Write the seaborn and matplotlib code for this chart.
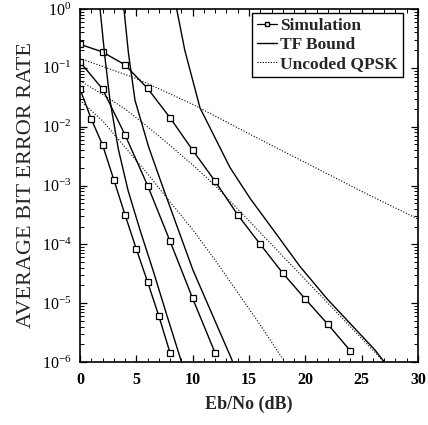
import numpy as np
import pandas as pd
import matplotlib
matplotlib.use("Agg")
import matplotlib.pyplot as plt
import seaborn as sns
from matplotlib.ticker import MultipleLocator, LogLocator, NullFormatter
from matplotlib.lines import Line2D

# ---- data (log10 of BER) ----
sim_a_x = [0, 1, 2, 3, 4, 5, 6, 7, 8]
sim_a_log = [-1.36, -1.87, -2.31, -2.90, -3.50, -4.08, -4.64, -5.22, -5.85]
sim_b_x = [0, 2, 4, 6, 8, 10, 12]
sim_b_log = [-0.90, -1.36, -2.14, -3.00, -3.95, -4.92, -5.85]
sim_c_x = [0, 2, 4, 6, 8, 10, 12, 14, 16, 18, 20, 22, 24]
sim_c_log = [-0.60, -0.73, -0.95, -1.35, -1.85, -2.40, -2.93, -3.50, -4.00, -4.49, -4.93, -5.36, -5.81]

tf1_x = [1.75, 1.78, 2.2, 2.66, 3.4, 4.26, 5.3, 6.48, 7.7, 8.96, 9.05]
tf1_log = [0.1, 0.0, -0.8, -1.55, -2.38, -3.08, -3.74, -4.44, -5.2, -5.97, -6.05]
tf2_x = [3.88, 3.9, 4.3, 4.88, 6.1, 7.45, 10.03, 13.5, 13.56]
tf2_log = [0.1, 0.0, -0.75, -1.55, -2.35, -3.08, -4.44, -5.97, -6.05]
tf3_x = [8.55, 8.58, 9.3, 10.65, 13.3, 15.1, 17.1, 19.5, 21.9, 24.0, 26.2, 27.0]
tf3_log = [0.1, 0.0, -0.7, -1.68, -2.69, -3.22, -3.74, -4.37, -4.92, -5.35, -5.8, -6.0]

qpsk1_x = [0, 5, 10, 15, 20, 25, 30]
qpsk1_log = [-0.84, -1.18, -1.62, -2.12, -2.61, -3.10, -3.57]
qpsk2_x = [0, 2, 4, 6, 8, 10, 12, 14, 16, 18, 20, 22, 24, 26, 27]
qpsk2_log = [-1.22, -1.45, -1.70, -2.00, -2.32, -2.65, -3.00, -3.40, -3.80, -4.20, -4.60, -5.00, -5.40, -5.80, -6.00]
qpsk3_x = [0, 2, 4, 6, 8, 10, 12, 14, 16, 18]
qpsk3_log = [-1.55, -1.90, -2.35, -2.80, -3.28, -3.75, -4.27, -4.82, -5.37, -5.95]

x_ticks = [0, 5, 10, 15, 20, 25, 30]
legend_labels = ["Simulation", "TF Bound", "Uncoded QPSK"]
x_label = "Eb/No (dB)"
y_label = "AVERAGE BIT ERROR RATE"

sns.set_style("ticks")
plt.rcParams["font.family"] = ["Liberation Serif", "DejaVu Serif"]
plt.rcParams["mathtext.fontset"] = "custom"
plt.rcParams["mathtext.rm"] = "Liberation Serif"
plt.rcParams["mathtext.it"] = "Liberation Serif:italic"
plt.rcParams["mathtext.bf"] = "Liberation Serif:bold"

fig = plt.figure(figsize=(4.28, 4.25), dpi=100)
ax = fig.add_axes([80 / 428, 1 - 362 / 425, 338 / 428, 353 / 425])

def draw(xs, logs, style):
    df = pd.DataFrame({"x": xs, "y": np.power(10.0, logs)})
    if style == "sim":
        sns.lineplot(data=df, x="x", y="y", ax=ax, color="black", lw=1.0,
                     marker="s", markersize=5, markerfacecolor="white",
                     markeredgecolor="black", markeredgewidth=0.9,
                     sort=False, estimator=None)
    elif style == "tf":
        sns.lineplot(data=df, x="x", y="y", ax=ax, color="black", lw=1.0,
                     sort=False, estimator=None)
    else:
        sns.lineplot(data=df, x="x", y="y", ax=ax, color="black", lw=0.8,
                     linestyle=(0, (1, 1.6)), sort=False, estimator=None)

draw(sim_a_x, sim_a_log, "sim")
draw(sim_b_x, sim_b_log, "sim")
draw(sim_c_x, sim_c_log, "sim")
draw(tf1_x, tf1_log, "tf")
draw(tf2_x, tf2_log, "tf")
draw(tf3_x, tf3_log, "tf")
draw(qpsk1_x, qpsk1_log, "q")
draw(qpsk2_x, qpsk2_log, "q")
draw(qpsk3_x, qpsk3_log, "q")

ax.set_yscale("log")
ax.set_xlim(0, 30)
ax.set_ylim(1e-6, 1)
ax.set_xticks(x_ticks)
ax.set_xticklabels([str(t) for t in x_ticks], fontweight="bold", fontsize=11.5)
ax.xaxis.set_minor_locator(MultipleLocator(1))
ax.set_yticks([10.0 ** k for k in range(-6, 1)])
ax.yaxis.set_minor_locator(LogLocator(base=10, subs=np.arange(2, 10), numticks=20))
ax.yaxis.set_minor_formatter(NullFormatter())
ax.tick_params(which="both", direction="in", top=True, right=True, colors="black")
ax.tick_params(which="major", length=5, width=0.9)
ax.tick_params(which="minor", length=3, width=0.7)
ax.tick_params(axis="y", labelsize=11.5, pad=6)
ax.tick_params(axis="x", pad=7)
for s in ax.spines.values():
    s.set_color("black")
    s.set_linewidth(1.2)

ax.set_xlabel(x_label, fontweight="bold", fontsize=13, labelpad=6)
ax.set_ylabel(y_label, fontsize=16, labelpad=4)

handles = [
    Line2D([], [], color="black", lw=0.9, marker="s", markersize=3,
           markerfacecolor="white", markeredgecolor="black"),
    Line2D([], [], color="black", lw=1.0),
    Line2D([], [], color="black", lw=0.8, linestyle=(0, (1, 1.4))),
]
leg = ax.legend(handles, legend_labels, loc="upper right",
                bbox_to_anchor=((403 - 80) / 338, 1 - (13 - 9) / 353),
                frameon=True, fancybox=False, edgecolor="black", framealpha=1,
                prop={"family": "Liberation Serif", "weight": "bold", "size": 12.5},
                handlelength=1.1, handletextpad=0.2, borderpad=0.3,
                labelspacing=0.15, borderaxespad=0.0)
leg.get_frame().set_linewidth(1.0)

fig.savefig("out.png", dpi=100)
